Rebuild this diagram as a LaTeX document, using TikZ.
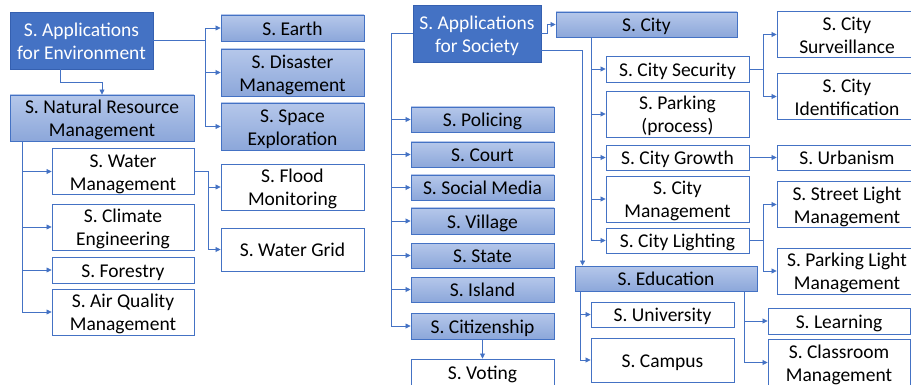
\documentclass[tikz,border=0pt]{standalone}
\usepackage{fontspec}
\setmainfont{Carlito}
\usetikzlibrary{arrows.meta,calc}
\definecolor{dblue}{HTML}{4472C4}
\definecolor{dborder}{HTML}{3560B0}
\definecolor{ltop}{HTML}{B5C7EA}
\definecolor{lbot}{HTML}{8CA7DA}
\definecolor{lineblue}{HTML}{4472C4}
\tikzset{
  base/.style={rectangle, inner sep=0pt,
    font=\fontsize{19.5}{23}\selectfont, line width=0.9pt},
  darkbox/.style={base, fill=dblue, draw=dborder, text=white},
  lightbox/.style={base, top color=ltop, bottom color=lbot, draw=dblue},
  whitebox/.style={base, fill=white, draw=dblue},
  conn/.style={draw=lineblue, line width=0.75pt},
  arr/.style={conn, -{Triangle[length=5pt,width=5pt]}},
}
\newcommand\bx[7]{\node[#6, minimum width={#4-#2}, minimum height={#5-#3}] (#1) at ({(#2+#4)/2},{(#3+#5)/2}) {\raisebox{-2.5pt}[\height][\depth]{\begin{tabular}{@{}c@{}}#7\end{tabular}}};}
\begin{document}
\begin{tikzpicture}[x=1pt,y=-1pt]
\useasboundingbox[fill=white] (0,0) rectangle (911,385);
% ---------- left part ----------
\bx{env}{10}{12}{153}{69}{darkbox}{S. Applications\\for Environment}
\bx{earth}{221}{15}{364}{41}{lightbox}{S. Earth}
\bx{disaster}{221}{49}{364}{96}{lightbox}{S. Disaster\\Management}
\bx{space}{221}{103}{364}{150}{lightbox}{S. Space\\Exploration}
\bx{nrm}{10}{95}{194}{141}{lightbox}{S. Natural Resource\\Management}
\bx{water}{52}{149}{194}{194}{whitebox}{S. Water\\Management}
\bx{climate}{52}{205}{194}{249}{whitebox}{S. Climate\\Engineering}
\bx{forestry}{52}{257}{194}{283}{whitebox}{S. Forestry}
\bx{air}{52}{292}{194}{332}{whitebox}{S. Air Quality\\Management}
\bx{flood}{221}{165}{364}{209}{whitebox}{S. Flood\\Monitoring}
\bx{grid}{221}{228}{364}{271}{whitebox}{S. Water Grid}
% ---------- right part ----------
\bx{society}{413}{5}{541}{62}{darkbox}{S. Applications\\for Society}
\bx{city}{556}{12}{737}{37}{lightbox}{S. City}
\bx{policing}{411}{107}{554}{132}{lightbox}{S. Policing}
\bx{court}{411}{142}{554}{167}{lightbox}{S. Court}
\bx{social}{411}{175}{554}{200}{lightbox}{S. Social Media}
\bx{village}{411}{208}{554}{234}{lightbox}{S. Village}
\bx{state}{411}{243}{554}{268}{lightbox}{S. State}
\bx{island}{411}{277}{554}{302}{lightbox}{S. Island}
\bx{citizen}{411}{313}{554}{339}{lightbox}{S. Citizenship}
\bx{voting}{411}{359}{554}{386}{whitebox}{S. Voting}
\bx{security}{606}{56}{749}{82}{whitebox}{S. City Security}
\bx{parking}{606}{92}{749}{136}{whitebox}{S. Parking\\(process)}
\bx{growth}{606}{145}{749}{170}{whitebox}{S. City Growth}
\bx{cmgmt}{606}{177}{749}{221}{whitebox}{S. City\\Management}
\bx{lighting}{606}{228}{749}{253}{whitebox}{S. City Lighting}
\bx{education}{575}{266}{757}{291}{lightbox}{S. Education}
\bx{univ}{591}{302}{734}{327}{whitebox}{S. University}
\bx{campus}{591}{338}{734}{382}{whitebox}{S. Campus}
\bx{surv}{777}{13}{917}{56}{whitebox}{S. City\\Surveillance}
\bx{ident}{777}{75}{917}{118}{whitebox}{S. City\\Identification}
\bx{urban}{777}{145}{917}{170}{whitebox}{S. Urbanism}
\bx{street}{777}{183}{917}{226}{whitebox}{S. Street Light\\Management}
\bx{parkl}{777}{249}{917}{293}{whitebox}{S. Parking Light\\Management}
\bx{learning}{768}{308}{910}{334}{whitebox}{S. Learning}
\bx{classroom}{768}{341}{910}{384}{whitebox}{S. Classroom\\Management}
% ---------- connectors left ----------
\coordinate (j1) at ([xshift=52pt]env.east);
\draw[conn] (env.east) -- (j1);
\draw[arr] (j1) |- (earth.west);
\draw[arr] (j1) |- (disaster.west);
\draw[arr] (j1) |- (space.west);
\draw[arr] ([xshift=-21pt]env.south) -- ++(0,13) -| (nrm.north);
\coordinate (n0) at ([xshift=13pt]nrm.south west);
\draw[arr] (n0) |- (water.west);
\draw[arr] (n0) |- (climate.west);
\draw[arr] (n0) |- (forestry.west);
\draw[arr] (n0) |- (air.west);
\coordinate (w0) at ([xshift=14pt]water.east);
\draw[conn] (water.east) -- (w0);
\draw[arr] (w0) |- (flood.west);
\draw[arr] (w0) |- (grid.west);
% ---------- connectors right ----------
\coordinate (s0) at ([xshift=-21pt]society.west);
\draw[conn] (society.west) -- (s0);
\foreach \t in {policing,court,social,village,state,island,citizen}
  \draw[arr] (s0) |- (\t.west);
\draw[arr] (society.east) -- ++(6,0) |- (city.west);
\draw[arr] ([yshift=-16.5pt]society.east) -| ([xshift=8pt]education.north west);
\coordinate (c0) at ([xshift=36pt]city.south west);
\foreach \t in {security,parking,growth,cmgmt,lighting}
  \draw[arr] (c0) |- (\t.west);
\coordinate (k1) at ([xshift=14pt]security.east);
\draw[conn] (security.east) -- (k1);
\draw[arr] (k1) |- (surv.west);
\draw[arr] (k1) |- (ident.west);
\draw[arr] (growth.east) -- (urban.west);
\coordinate (k2) at ([xshift=14pt]lighting.east);
\draw[conn] (lighting.east) -- (k2);
\draw[arr] (k2) |- (street.west);
\draw[arr] (k2) |- (parkl.west);
\coordinate (e1) at ([xshift=6pt]education.south west);
\draw[arr] (e1) |- (univ.west);
\draw[arr] (e1) |- (campus.west);
\coordinate (e2) at ([xshift=-13pt]education.south east);
\draw[arr] (e2) |- (learning.west);
\draw[arr] (e2) |- (classroom.west);
\draw[arr] (citizen.south) -- (voting.north);
\end{tikzpicture}
\end{document}
